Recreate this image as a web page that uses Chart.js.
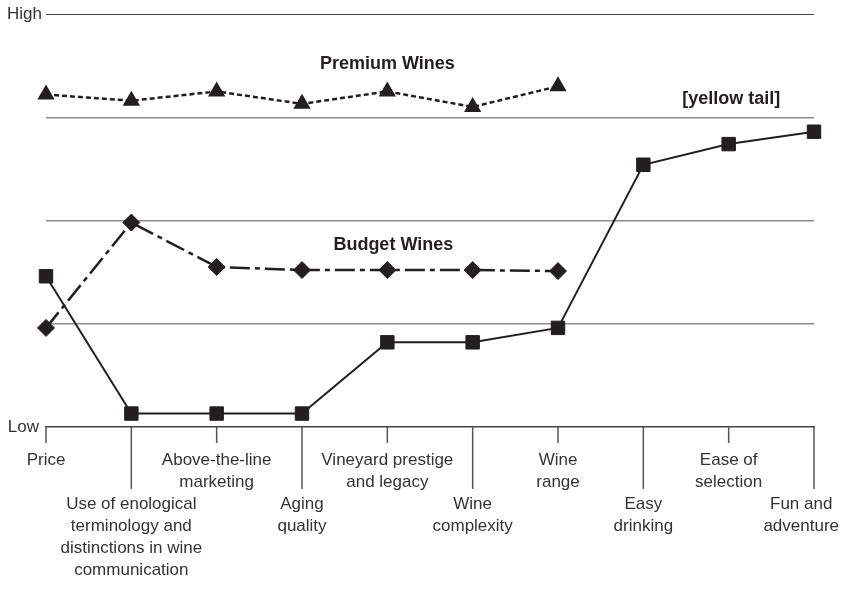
<!DOCTYPE html>
<html>
<head>
<meta charset="utf-8">
<script src="https://cdn.jsdelivr.net/npm/chart.js@4"></script>
<style>
  body { margin: 0; background: #fff; }
  canvas { display: block; }
</style>
</head>
<body>
<canvas id="lienzo" width="841" height="596"></canvas>
<script>
// Factores de competencia (eje X), cada uno en lineas
const factores = [
    ['Price'],
    ['Use of enological', 'terminology and', 'distinctions in wine', 'communication'],
    ['Above-the-line', 'marketing'],
    ['Aging', 'quality'],
    ['Vineyard prestige', 'and legacy'],
    ['Wine', 'complexity'],
    ['Wine', 'range'],
    ['Easy', 'drinking'],
    ['Ease of', 'selection'],
    ['Fun and', 'adventure'],
];

// Valores (0 = Low, 4 = High)
const vinosPremium = [3.22, 3.16, 3.25, 3.13, 3.25, 3.10, 3.30, null, null, null];
const vinosEconomicos = [0.96, 1.98, 1.55, 1.52, 1.52, 1.52, 1.51, null, null, null];
const yellowTail = [1.46, 0.13, 0.13, 0.13, 0.82, 0.82, 0.96, 2.54, 2.74, 2.86];

const nivelesY = [0, 1, 2, 3, 4];
const etiquetasY = { 0: 'Low', 4: 'High' };

const NEGRO = '#231f20';
const TEXTO = '#333333';
const FUENTE = '"Liberation Sans", Arial, Helvetica, sans-serif';

// Plugin para dibujar ticks escalonados, etiquetas y rotulos
const dibujoExtra = {
    id: 'dibujoExtra',
    afterDraw(chart) {
        const { ctx, scales: { x, y } } = chart;
        const base = y.getPixelForValue(0);
        ctx.save();

        // ticks cortos y largos
        ctx.strokeStyle = '#555';
        ctx.lineWidth = 1.5;
        factores.forEach((f, i) => {
            const px = x.getPixelForValue(i);
            ctx.beginPath();
            ctx.moveTo(px, base);
            ctx.lineTo(px, base + (i % 2 ? 62 : 16));
            ctx.stroke();
        });

        // etiquetas de categorias
        ctx.font = '17px ' + FUENTE;
        ctx.fillStyle = TEXTO;
        ctx.textAlign = 'center';
        ctx.textBaseline = 'alphabetic';
        factores.forEach((lineas, i) => {
            let cx = x.getPixelForValue(i);
            const ancho = Math.max(...lineas.map(l => ctx.measureText(l).width));
            if (cx + ancho / 2 > chart.width - 2) cx = chart.width - 2 - ancho / 2;
            const y0 = base + (i % 2 ? 82 : 38);
            lineas.forEach((l, k) => ctx.fillText(l, cx, y0 + k * 22));
        });

        // High / Low
        ctx.textAlign = 'right';
        ctx.textBaseline = 'middle';
        ctx.fillText(etiquetasY[4], 42, y.getPixelForValue(4));
        ctx.fillText(etiquetasY[0], 39, y.getPixelForValue(0));

        // rotulos de series
        ctx.font = 'bold 18px ' + FUENTE;
        ctx.fillStyle = NEGRO;
        ctx.textAlign = 'center';
        ctx.fillText('Premium Wines', x.getPixelForValue(4), y.getPixelForValue(3.52));
        ctx.fillText('Budget Wines', x.getPixelForValue(4.07), y.getPixelForValue(1.76));
        ctx.fillText('[yellow tail]', x.getPixelForValue(8.03), y.getPixelForValue(3.18));
        ctx.restore();
    },
};

new Chart(document.getElementById('lienzo').getContext('2d'), {
    type: 'line',
    data: {
        labels: factores,
        datasets: [
            {
                label: 'Premium Wines',
                data: vinosPremium,
                borderColor: NEGRO,
                borderWidth: 2.5,
                borderDash: [5, 3],
                pointStyle: 'triangle',
                pointRadius: 10,
                pointBorderWidth: 0,
                pointBackgroundColor: NEGRO,
                pointBorderColor: NEGRO,
                spanGaps: false,
            },
            {
                label: 'Budget Wines',
                data: vinosEconomicos,
                borderColor: NEGRO,
                borderWidth: 2.5,
                borderDash: [20, 5, 5, 5],
                pointStyle: 'rectRot',
                pointRadius: 8.5,
                pointBorderWidth: 1,
                pointBackgroundColor: NEGRO,
                pointBorderColor: NEGRO,
            },
            {
                label: '[yellow tail]',
                data: yellowTail,
                borderColor: NEGRO,
                borderWidth: 2,
                pointStyle: 'rect',
                pointRadius: 9.5,
                pointBorderWidth: 1,
                pointBackgroundColor: NEGRO,
                pointBorderColor: NEGRO,
            },
        ],
    },
    options: {
        responsive: false,
        animation: false,
        events: [],
        layout: { padding: { top: 14, right: 27, left: 0, bottom: 0 } },
        plugins: {
            legend: { display: false },
            tooltip: { enabled: false },
        },
        scales: {
            x: {
                type: 'category',
                offset: false,
                grid: { display: false },
                border: { display: true, color: '#444', width: 1.5 },
                ticks: { display: false },
                afterFit: s => { s.height = 169; },
            },
            y: {
                min: nivelesY[0],
                max: nivelesY[nivelesY.length - 1],
                ticks: { display: false, stepSize: 1 },
                border: { display: false },
                grid: {
                    drawTicks: false,
                    color: c => c.tick.value === 0 ? 'rgba(0,0,0,0)' : (c.tick.value === 4 ? '#444' : '#8c8c8c'),
                    lineWidth: c => c.tick.value === 4 ? 1 : 1.5,
                },
                afterFit: s => { s.width = 46; },
            },
        },
    },
    plugins: [dibujoExtra],
});
</script>
</body>
</html>
